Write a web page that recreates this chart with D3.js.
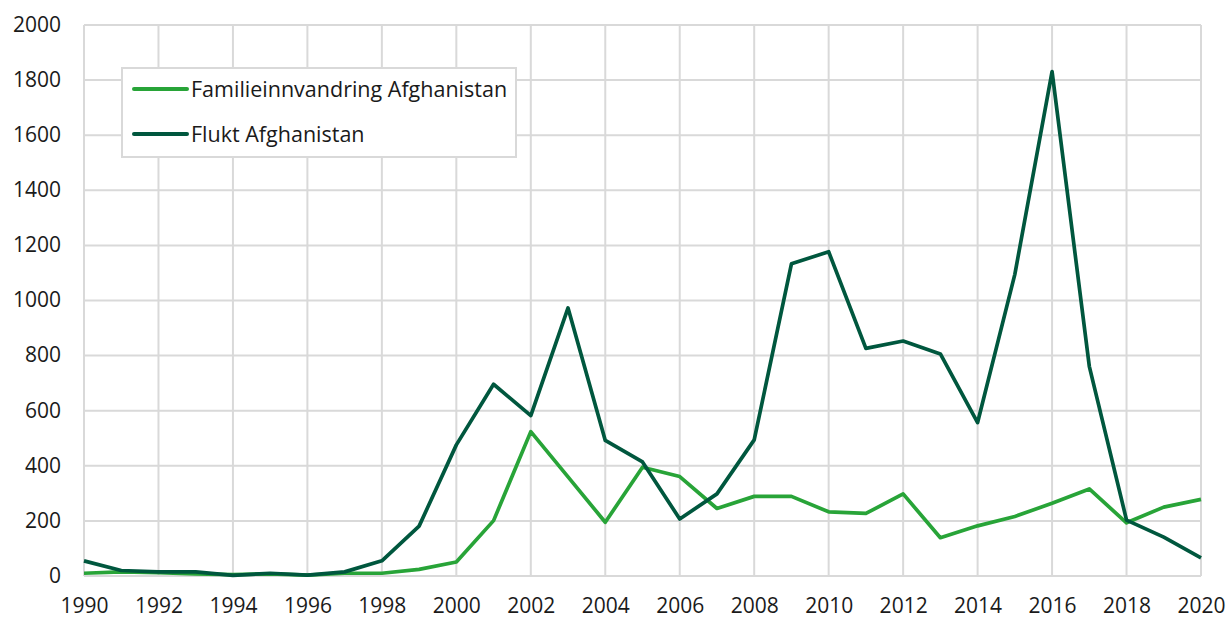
<!DOCTYPE html>
<html><head><meta charset="utf-8">
<script src="https://cdn.jsdelivr.net/npm/d3@7"></script>
<style>
body{margin:0;background:#fff;}
svg text{font-family:"Open Sans",sans-serif;fill:#1a1a1a;}
</style></head>
<body><svg id="c" width="1227" height="619"></svg>
<script>
const years = d3.range(1990, 2021);
const familie = [10,15,12,8,5,8,3,10,10,24,51,201,524,360,195,395,361,245,289,289,233,227,298,139,182,216,264,316,193,250,278];
const flukt = [55,20,15,15,2,10,3,15,55,181,476,696,582,973,492,414,207,298,494,1133,1177,826,853,806,557,1095,1831,761,203,141,66];
const seriesNames = ["Familieinnvandring Afghanistan","Flukt Afghanistan"];
const colors = ["#28a438","#00573e"];
const yTicks = [0,200,400,600,800,1000,1200,1400,1600,1800,2000];
const xTicks = d3.range(1990, 2021, 2);

const W=1227,H=619,m={l:84,r:26,t:25,b:43};
const svg=d3.select("#c");
const x=d3.scaleLinear().domain([1990,2020]).range([m.l,W-m.r]);
const y=d3.scaleLinear().domain([0,2000]).range([H-m.b,m.t]);

const g=svg.append("g");
g.selectAll(".hg").data(yTicks).join("line")
 .attr("x1",m.l).attr("x2",W-m.r).attr("y1",d=>y(d)).attr("y2",d=>y(d))
 .attr("stroke","#d9d9d9").attr("stroke-width",2);
g.selectAll(".vg").data(xTicks).join("line")
 .attr("y1",m.t).attr("y2",H-m.b).attr("x1",d=>x(d)).attr("x2",d=>x(d))
 .attr("stroke","#d9d9d9").attr("stroke-width",2);

const yAx=svg.append("g").attr("transform",`translate(${m.l},0)`)
 .call(d3.axisLeft(y).tickValues(yTicks).tickSize(0).tickPadding(23).tickFormat(d3.format("d")));
yAx.select(".domain").remove();
yAx.selectAll("text").attr("font-size",21).style("font-family","Open Sans").attr("dy","0.3em");
const xAx=svg.append("g").attr("transform",`translate(0,${H-m.b})`)
 .call(d3.axisBottom(x).tickValues(xTicks).tickSize(0).tickFormat(d3.format("d")));
xAx.select(".domain").remove();
xAx.selectAll("text").attr("font-size",21).style("font-family","Open Sans").attr("y",37).attr("dy",0);

const line=d3.line().x((d,i)=>x(years[i])).y(d=>y(d));
[familie,flukt].forEach((s,i)=>{
 svg.append("path").attr("d",line(s)).attr("fill","none").attr("stroke",colors[i])
  .attr("stroke-width",3.7).attr("stroke-linejoin","round");
});

const lg=svg.append("g");
lg.append("rect").attr("x",122).attr("y",68).attr("width",394).attr("height",89)
 .attr("fill","#fff").attr("stroke","#d9d9d9").attr("stroke-width",2);
seriesNames.forEach((n,i)=>{
 const yy=89+i*45;
 lg.append("line").attr("x1",134).attr("x2",187).attr("y1",yy).attr("y2",yy)
  .attr("stroke",colors[i]).attr("stroke-width",4).attr("stroke-linecap","round");
 lg.append("text").attr("x",191).attr("y",yy).attr("dy","0.35em").attr("font-size",21.5).text(n);
});
</script></body></html>
